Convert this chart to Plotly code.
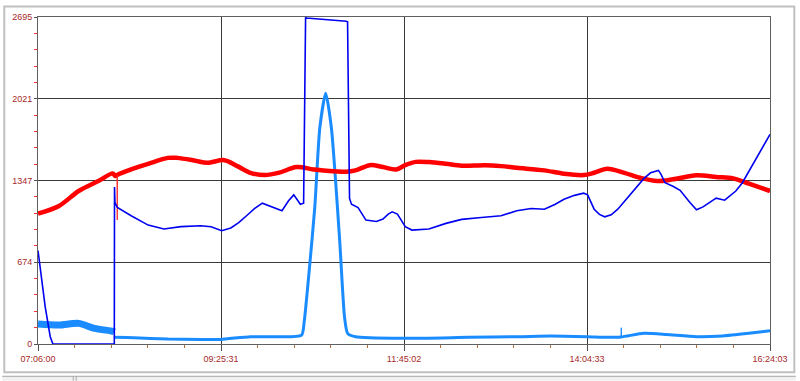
import plotly.graph_objects as go

DAY = "2000-01-01 "

# Red series (thick)
red_t = ["07:06:00","07:22:00","07:37:00","07:52:00","08:03:00","08:05:00","08:06:40","08:17:00",
         "08:30:00","08:45:00","08:52:00","09:05:00","09:15:00","09:28:00","09:38:00","09:48:00",
         "09:59:00","10:10:00","10:23:00","10:36:00","10:48:00","11:01:00","11:08:00","11:19:00",
         "11:29:00","11:39:00","11:46:00","11:54:00","12:04:00","12:17:00","12:29:00","12:47:00",
         "12:59:00","13:11:00","13:32:00","13:47:00","14:02:00","14:10:00","14:20:00","14:33:00",
         "14:45:00","14:58:00","15:10:00","15:28:00","15:43:00","15:56:00","16:08:00","16:24:03"]
red_v = [1075,1138,1261,1343,1406,1384,1395,1439,
         1485,1534,1534,1513,1493,1515,1466,1411,
         1392,1412,1458,1439,1425,1420,1431,1474,
         1458,1439,1474,1501,1499,1485,1469,1474,
         1466,1452,1431,1403,1392,1411,1444,1411,
         1370,1343,1357,1390,1376,1365,1321,1261]

# Thin red spike
red_spike_t = ["08:06:15","08:06:25","08:06:35"]
red_spike_v = [1380,1023,1390]

# Dark blue series
blue_t = ["07:06:00","07:09:00","07:11:30","07:15:20","07:17:20","08:04:10","08:04:20","08:04:40",
          "08:06:30","08:17:00","08:30:00","08:42:00","08:55:00","09:10:00","09:18:00","09:26:00",
          "09:33:00","09:39:00","09:45:00","09:51:00","09:57:00","10:03:00","10:12:00","10:17:00","10:21:00","10:26:00","10:28:30",
          "10:30:00","10:30:40","11:01:00","11:02:00","11:03:30","11:05:00","11:10:00","11:16:00",
          "11:24:00","11:29:00","11:33:00","11:36:00","11:40:00","11:46:00","11:51:00","12:04:00","12:17:00",
          "12:29:00","12:44:00","12:59:00","13:11:00","13:22:00","13:32:00","13:40:00","13:47:00","13:55:00","14:02:00",
          "14:05:00","14:10:00","14:14:00","14:18:00","14:23:00","14:28:00","14:38:00","14:48:00","14:53:00","14:59:00",
          "15:01:00","15:04:00","15:10:00","15:15:30","15:23:00","15:28:00","15:33:00","15:38:00","15:43:00","15:49:30",
          "15:58:00","16:03:00","16:12:00","16:21:00","16:24:03"]
blue_v = [770,524,306,60,0,0,1294,1166,
          1125,1057,980,948,967,975,967,934,
          956,1000,1057,1115,1161,1135,1098,1180,1229,1152,1160,
          2692,2687,2660,2655,1200,1152,1125,1021,
          1010,1030,1070,1089,1071,967,939,948,994,
          1027,1043,1057,1098,1117,1111,1150,1193,1225,1243,
          1229,1111,1068,1048,1065,1111,1234,1365,1411,1431,
          1398,1329,1300,1267,1166,1106,1130,1166,1202,1185,
          1261,1329,1500,1671,1728]

# Light blue series (noisy band)
lb1_t = ["07:06:00","07:22:00","07:37:00","07:49:00","08:03:00","08:04:10"]
lb1_v = [165,156,170,129,105,100]

lb2_t = ["08:04:20","08:19:00","08:45:00","09:10:00","09:25:00","09:48:00","10:10:00","10:27:00",
         "10:29:00","10:33:00","10:37:00","10:40:50","10:45:20","10:49:40","10:56:00","10:59:40",
         "11:02:00","11:08:00","11:44:00","12:34:00","13:12:00","13:37:00","14:05:00","14:20:00",
         "14:30:30","14:48:00","15:05:00","15:28:00","15:48:00","16:08:00","16:24:03"]
lb2_v = [55,52,41,38,38,60,60,74,
         190,633,1125,1780,2067,1780,852,224,
         88,60,47,55,60,66,60,55,
         58,88,79,60,66,88,109]

lb_spike_t = ["14:30:30","14:30:40","14:30:50"]
lb_spike_v = [58,134,60]

x_tick_labels = ["07:06:00","09:25:31","11:45:02","14:04:33","16:24:03"]
y_tick_vals = [0,674,1347,2021,2695]

def ts(lst):
    return [DAY + s for s in lst]

fig = go.Figure()
LB = "#1a8cff"
fig.add_trace(go.Scatter(x=ts(lb1_t), y=lb1_v, mode="lines",
                         line=dict(color=LB, width=7, shape="spline", smoothing=0.8), hoverinfo="skip"))
fig.add_trace(go.Scatter(x=ts(lb2_t), y=lb2_v, mode="lines",
                         line=dict(color=LB, width=3, shape="spline", smoothing=0.6), hoverinfo="skip"))
fig.add_trace(go.Scatter(x=ts(lb_spike_t), y=lb_spike_v, mode="lines", line=dict(color=LB, width=1), hoverinfo="skip"))
fig.add_trace(go.Scatter(x=ts(red_t), y=red_v, mode="lines",
                         line=dict(color="#ff0000", width=4.5, shape="spline", smoothing=0.9), hoverinfo="skip"))
fig.add_trace(go.Scatter(x=ts(red_spike_t), y=red_spike_v, mode="lines", line=dict(color="#ff3030", width=1), hoverinfo="skip"))
fig.add_trace(go.Scatter(x=ts(blue_t), y=blue_v, mode="lines", line=dict(color="#0000f0", width=1.6), hoverinfo="skip"))

LBL = "#a52a2a"
fig.update_layout(
    width=800, height=381,
    margin=dict(l=36, r=26, t=15, b=37),
    paper_bgcolor="white", plot_bgcolor="white",
    showlegend=False,
    font=dict(family="Liberation Sans, Arial, sans-serif", size=9, color=LBL),
    xaxis=dict(
        type="date",
        range=[DAY + x_tick_labels[0], DAY + x_tick_labels[-1]],
        tickvals=ts(x_tick_labels), ticktext=x_tick_labels,
        showgrid=True, gridcolor="#3a3a3a", gridwidth=1,
        showline=True, mirror=True, linecolor="#606060", linewidth=1,
        ticks="outside", ticklen=6, tickcolor="#505050", tickwidth=1,
        minor=dict(ticks="outside", ticklen=3, tickcolor="#b07040",
                   dtick=1674150, tick0=DAY + x_tick_labels[0], showgrid=False),
        zeroline=False, fixedrange=True,
    ),
    yaxis=dict(
        range=[0, 2695],
        tickvals=y_tick_vals, ticktext=[str(v) for v in y_tick_vals],
        showgrid=True, gridcolor="#3a3a3a", gridwidth=1,
        showline=True, mirror=True, linecolor="#606060", linewidth=1,
        ticks="outside", ticklen=3, tickcolor="#505050",
        minor=dict(ticks="outside", ticklen=3, tickcolor="#ff3030",
                   dtick=134.75, tick0=0, showgrid=False),
        zeroline=False, fixedrange=True,
    ),
)

# window frame (paper coords relative to plot domain)
def px_x(X):
    return (X - 36) / 738.0
def px_y(Y):
    return (344 - Y) / 329.0

fig.add_shape(type="rect", xref="paper", yref="paper",
              x0=px_x(2), x1=px_x(798.5), y0=px_y(372.5), y1=px_y(4.5),
              line=dict(color="#c0c0c0", width=2), layer="below")
fig.add_shape(type="rect", xref="paper", yref="paper",
              x0=px_x(0), x1=px_x(800), y0=px_y(381), y1=px_y(376),
              fillcolor="#f0f0f0", line=dict(width=0), layer="below")
fig.add_shape(type="line", xref="paper", yref="paper",
              x0=px_x(0), x1=px_x(800), y0=px_y(376.5), y1=px_y(376.5),
              line=dict(color="#a8a8a8", width=1))
for X in (71.5, 74.5):
    fig.add_shape(type="line", xref="paper", yref="paper",
                  x0=px_x(X), x1=px_x(X), y0=px_y(381), y1=px_y(376.5),
                  line=dict(color="#a8a8a8", width=1))

fig.write_html("out.html")
